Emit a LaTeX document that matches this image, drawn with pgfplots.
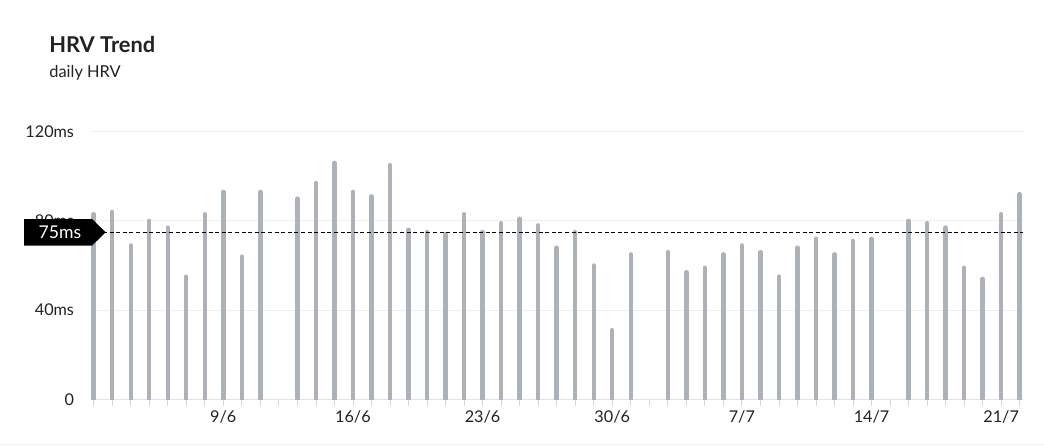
\documentclass[border=0pt]{standalone}
\usepackage{fontspec}
\setmainfont{Lato}
\usepackage{pgfplots}
\pgfplotsset{compat=1.18}
\definecolor{barc}{HTML}{ADB1B8}
\definecolor{txt}{HTML}{222222}
\definecolor{gridc}{HTML}{EFEFEF}
\definecolor{basec}{HTML}{E2E2E2}
\definecolor{tickc}{HTML}{D6D6D6}
\begin{document}
\begin{tikzpicture}[x=0.5pt,y=0.5pt]
% page in pixel units of the reference (1 px = 0.5pt)
\path[fill=white,use as bounding box] (0,0) rectangle (1044,446);
\node[anchor=base west,inner sep=0pt,text=txt,font=\fontsize{10.9}{12}\selectfont\bfseries] at (49,393.7) {HRV Trend};
\node[anchor=base west,inner sep=0pt,text=txt,font=\fontsize{8.2}{10}\selectfont] at (49,368.7) {daily HRV};
\draw[gridc,line width=0.5pt] (0,2) -- (1044,2);
\begin{axis}[
  at={(45.35pt,23.35pt)}, anchor=south west,
  scale only axis, width=466.15pt, height=133.8pt,
  xmin=-0.16, xmax=50.18, ymin=0, ymax=120,
  axis x line*=bottom, axis y line*=left,
  x axis line style={basec,line width=0.6pt,-},
  y axis line style={draw=none},
  xtick={0,...,50},
  xticklabels={,,,,,,,9/6,,,,,,,16/6,,,,,,,23/6,,,,,,,30/6,,,,,,,7/7,,,,,,,14/7,,,,,,,21/7,},
  ytick={0,40,80,120}, yticklabels={0,40ms,80ms,120ms},
  tick align=outside, major tick length=3.3pt,
  x tick style={tickc,line width=0.4pt},
  y tick style={draw=none},
  ymajorgrids, grid style={gridc,line width=0.5pt},
  tick label style={text=txt,font=\fontsize{8.1}{9}\selectfont},
  yticklabel style={inner sep=0pt,anchor=east,xshift=-4.85pt},
  xticklabel style={inner sep=0pt,anchor=north,yshift=-2.3pt},
]
\addplot[ycomb,barc,line width=2.2pt,line cap=round,mark=none] coordinates {
(0,83) (1,84) (2,69) (3,80) (4,77) (5,55) (6,83) (7,93) (8,64) (9,93)
(11,90) (12,97) (13,106) (14,93) (15,91) (16,105) (17,76) (18,75) (19,74)
(20,83) (21,75) (22,79) (23,81) (24,78) (25,68) (26,75) (27,60) (28,31) (29,65)
(31,66) (32,57) (33,59) (34,65) (35,69) (36,66) (37,55) (38,68) (39,72)
(40,65) (41,71) (42,72) (44,80) (45,79) (46,77) (47,59) (48,54) (49,83) (50,92)
};
\addplot[black,line width=0.5pt,dash pattern=on 2pt off 1.3pt] coordinates {(0.5,75) (50.18,75)};
\end{axis}
\fill[black] (24,227) -- (92,227) -- (105.7,213.7) -- (92,200.4) -- (24,200.4) -- cycle;
\node[text=white,inner sep=0pt,font=\fontsize{8.8}{10}\selectfont] at (60,213.7) {75ms};
\end{tikzpicture}
\end{document}
